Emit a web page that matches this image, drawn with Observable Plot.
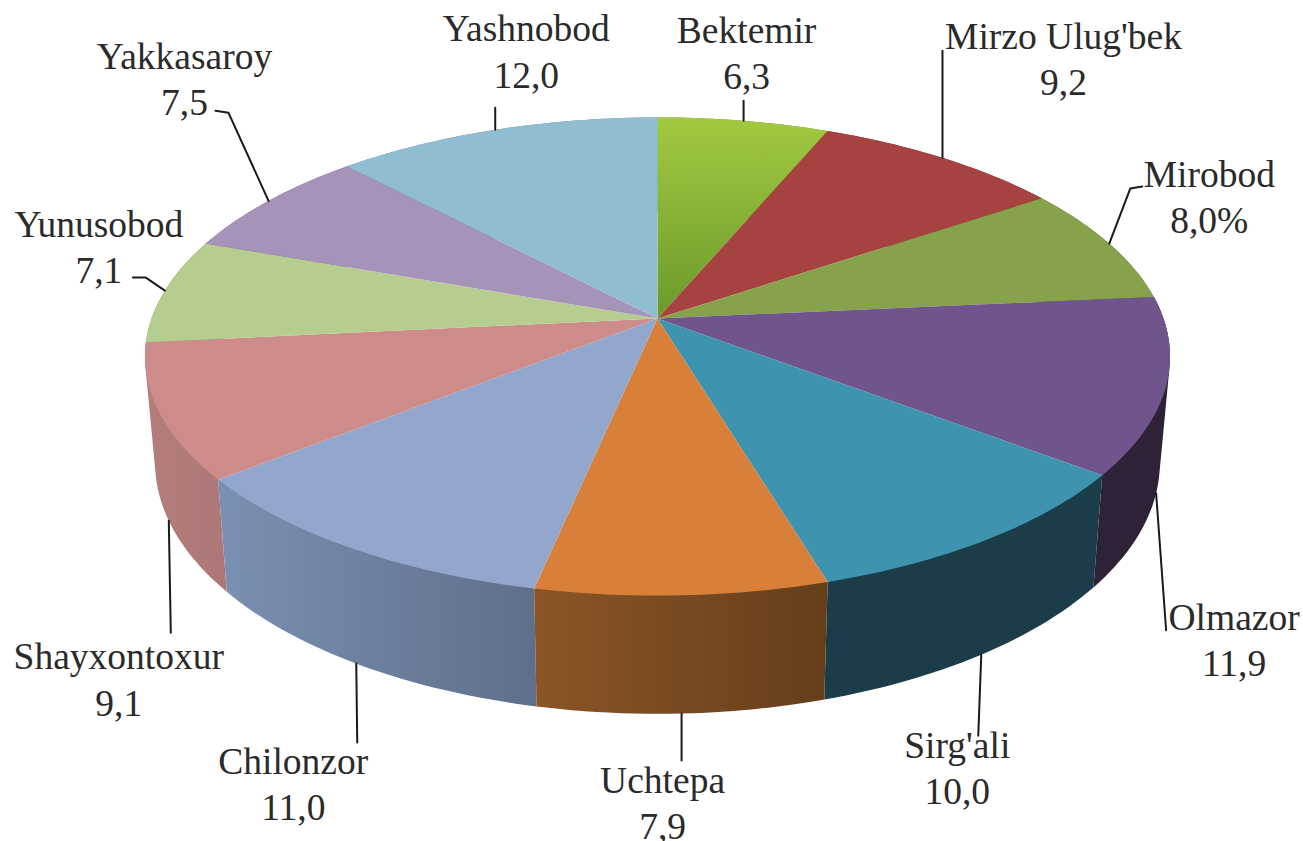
<!DOCTYPE html>
<html>
<head>
<meta charset="utf-8">
<style>html,body{margin:0;padding:0;background:#fff;overflow:hidden}</style>
<script src="https://cdn.jsdelivr.net/npm/d3@7"></script>
<script src="https://cdn.jsdelivr.net/npm/@observablehq/plot@0.6"></script>
</head>
<body>
<div id="chart"></div>
<script>
// Data
const districts = ["Bektemir","Mirzo Ulug'bek","Mirobod","Olmazor","Sirg'ali","Uchtepa","Chilonzor","Shayxontoxur","Yunusobod","Yakkasaroy","Yashnobod"];
const shares = [6.3,9.2,8.0,11.9,10.0,7.9,11.0,9.1,7.1,7.5,12.0];
const shareLabels = ["6,3","9,2","8,0%","11,9","10,0","7,9","11,0","9,1","7,1","7,5","12,0"];

// Styles
const topFills = ["url(#g-top-bektemir)","#a64341","#86a24b","#70548c","#3e94ae","#d8803a","#92a6ce","#cd8b8a","#b6cd90","#a593ba","#90bdd2"];
const sideFills = ["#6a8a2a","#7a3030","#62783a","#2d2236","#1a3d49","url(#g-side-uchtepa)","url(#g-side-chilonzor)","url(#g-side-shayx)","#88a06a","#7a6c8c","#6a8c9c"];

// Layout: label-block and leader offsets from each slice's rim anchor
const labelOffsets = [[3,-70],[121,-101],[100,-48],[78,145],[-24,112],[-19,88],[-63,119],[-50,157],[-66,-45],[-84,-124],[31,-80]];
const leaderOffsets = [[[0,-20]],[[0,-107]],[[21,-55],[33,-57]],[[10,137]],[[-3,81]],[[0,47]],[[1,79]],[[2,112]],[[-19,-13],[-32,-13]],[[-40,-88],[-53,-90]],[[0,-22]]];

// Perspective disc geometry
const cx = 657, persp = 0.159;
const rimTop = {a: 506, b: 233, cy: 318};
const rimBottom = {a: 496, b: 245, cy: 422};
const total = d3.sum(shares);
const rimPoint = (pct, rim) => {
  const t = pct / total * 2 * Math.PI, d = 1 + persp * Math.cos(t);
  return [cx + rim.a * Math.sin(t) / d, rim.cy - rim.b * Math.cos(t) / d];
};
const arcPoints = (from, to, rim) => {
  const n = Math.max(2, Math.ceil((to - from) * 3));
  return d3.range(n + 1).map(i => rimPoint(from + (to - from) * i / n, rim));
};
const slices = [];
let acc = 0;
shares.forEach((v, i) => {
  const from = acc, to = acc + v, mid = (from + to) / 2;
  acc = to;
  const front = Math.cos(mid / total * 2 * Math.PI) < -0.2;
  slices.push({i, from, to, mid, front, anchor: rimPoint(mid, front ? rimBottom : rimTop)});
});
const center = [cx, rimTop.cy];
const topPoly = s => [center, ...arcPoints(s.from, s.to, rimTop)];
const sidePoly = s => d3.polygonHull([...arcPoints(s.from, s.to, rimTop), ...arcPoints(s.from, s.to, rimBottom)]);
const depth = s => -Math.cos(s.mid / total * 2 * Math.PI);

const poly = (pts, fill) => Plot.line(pts, {x: d => d[0], y: d => d[1], fill, stroke: "none", curve: "linear-closed"});

const gradient = (defs, id, x1, y1, x2, y2, c1, c2) => {
  const g = defs.append("linearGradient").attr("id", id).attr("gradientUnits", "userSpaceOnUse")
    .attr("x1", x1).attr("y1", y1).attr("x2", x2).attr("y2", y2);
  g.append("stop").attr("offset", 0).attr("stop-color", c1);
  g.append("stop").attr("offset", 1).attr("stop-color", c2);
};
const defsMark = () => {
  const defs = d3.create("svg:defs");
  const pB = rimPoint(0, rimTop);
  gradient(defs, "g-top-bektemir", pB[0], pB[1], cx, rimTop.cy, "#a2c940", "#6b9a2c");
  const [u, c, s] = [slices[5], slices[6], slices[7]];
  gradient(defs, "g-side-uchtepa", rimPoint(u.to, rimTop)[0], 0, rimPoint(u.from, rimTop)[0], 0, "#8b5527", "#653e1a");
  gradient(defs, "g-side-chilonzor", rimPoint(c.to, rimTop)[0], 0, rimPoint(c.from, rimTop)[0], 0, "#7b90b2", "#5f6f8b");
  gradient(defs, "g-side-shayx", rimPoint(s.to, rimTop)[0], 0, rimPoint(s.from, rimTop)[0], 0, "#b47d7c", "#ad7877");
  return defs.node();
};

const labels = slices.map(s => ({
  text: districts[s.i] + "\n" + shareLabels[s.i],
  x: s.anchor[0] + labelOffsets[s.i][0],
  y: s.anchor[1] + labelOffsets[s.i][1]
}));

const chart = Plot.plot({
  width: 1303, height: 841,
  marginTop: 0, marginRight: 0, marginBottom: 0, marginLeft: 0,
  x: {domain: [0, 1303], range: [0, 1303], axis: null},
  y: {domain: [0, 841], range: [0, 841], axis: null},
  style: {background: "#fff"},
  marks: [
    defsMark,
    ...d3.sort(slices, depth).map(s => poly(sidePoly(s), sideFills[s.i])),
    ...slices.map(s => poly(topPoly(s), topFills[s.i])),
    ...slices.map(s => Plot.line(
      [s.anchor, ...leaderOffsets[s.i].map(o => [s.anchor[0] + o[0], s.anchor[1] + o[1]])],
      {x: d => d[0], y: d => d[1], stroke: "#1a1a1a", strokeWidth: 2}
    )),
    Plot.text(labels, {
      x: "x", y: "y", text: "text", textAnchor: "middle", lineAnchor: "middle",
      lineHeight: 1.23, fontFamily: "Liberation Serif", fontSize: 37.5, fill: "#2a2a2a"
    })
  ]
});
document.getElementById("chart").appendChild(chart);
</script>
</body>
</html>
